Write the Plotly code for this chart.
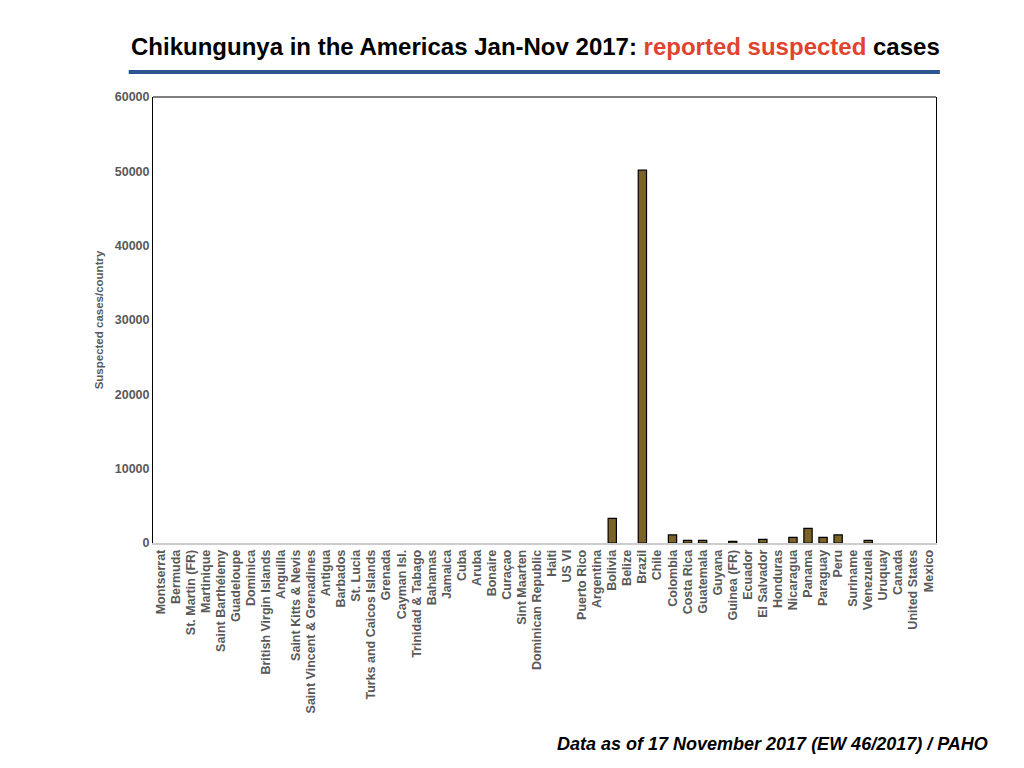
import plotly.graph_objects as go

# countries in chart order
countries = [
    "Montserrat", "Bermuda", "St. Martin (FR)", "Martinique", "Saint Barthélemy",
    "Guadeloupe", "Dominica", "British Virgin Islands", "Anguilla", "Saint Kitts & Nevis",
    "Saint Vincent & Grenadines", "Antigua", "Barbados", "St. Lucia",
    "Turks and Caicos Islands", "Grenada", "Cayman Isl.", "Trinidad & Tabago",
    "Bahamas", "Jamaica", "Cuba", "Aruba", "Bonaire", "Curaçao", "Sint Maarten",
    "Dominican Republic", "Haiti", "US VI", "Puerto Rico", "Argentina", "Bolivia",
    "Belize", "Brazil", "Chile", "Colombia", "Costa Rica", "Guatemala", "Guyana",
    "Guinea (FR)", "Ecuador", "El Salvador", "Honduras", "Nicaragua", "Panama",
    "Paraguay", "Peru", "Suriname", "Venezuela", "Uruquay", "Canada",
    "United States", "Mexico",
]
# suspected cases
cases = [
    0, 0, 0, 0, 0,
    0, 0, 0, 0, 0,
    0, 0, 0, 0,
    0, 0, 0, 0,
    0, 0, 0, 0, 0, 0, 0,
    0, 0, 0, 0, 0, 3320,
    0, 50150, 0, 1080, 360, 360, 0,
    230, 0, 500, 0, 760, 1970,
    760, 1080, 0, 360, 0, 0,
    0, 0,
]
yticks = [0, 10000, 20000, 30000, 40000, 50000, 60000]

font_main = "Liberation Sans, Arial, sans-serif"
gray = "#595959"

fig = go.Figure()
fig.add_trace(go.Bar(
    x=countries, y=cases,
    marker=dict(color="#7B6228",
                line=dict(color="#000000", width=[1.2 if v > 0 else 0 for v in cases])),
    width=0.55, showlegend=False,
))

# page body has an 8px margin, so the figure is a bit smaller than the window
fig.update_layout(
    width=1016, height=760,
    paper_bgcolor="white", plot_bgcolor="white",
    margin=dict(l=145, r=88, t=89, b=225),
    font=dict(family=font_main, color=gray),
    xaxis=dict(
        tickangle=-90, tickfont=dict(size=12.5, color=gray, family=font_main),
        tickvals=countries, ticktext=["<b>%s</b>" % c for c in countries],
        showline=True, linecolor="#CCCCCC", linewidth=1.5,
        showgrid=False, ticks="", range=[-0.5, len(countries) - 0.5],
    ),
    yaxis=dict(
        range=[0, 60000], tickvals=yticks, ticktext=["<b>%d</b>" % v for v in yticks],
        tickfont=dict(size=12.5, color=gray, family=font_main),
        showline=True, linecolor="#000000", linewidth=1, mirror=True,
        showgrid=False, zeroline=False, ticks="",
        title=dict(text="<b>Suspected cases/country</b>", font=dict(size=11.5, color=gray), standoff=8),
    ),
    shapes=[
        dict(type="line", xref="paper", yref="paper", x0=0, x1=1, y0=1, y1=1,
             line=dict(color="#000000", width=1)),
        dict(type="line", xref="paper", yref="paper", x0=-0.031, x1=1.005, y0=1.056, y1=1.056,
             line=dict(color="#2D5591", width=4)),
    ],
    annotations=[
        dict(text="<b>Chikungunya in the Americas Jan-Nov 2017: "
                  "<span style='color:#E0432F'>reported suspected</span> cases</b>",
             xref="paper", yref="paper", x=0.489, y=1.114, xanchor="center", yanchor="middle",
             showarrow=False, font=dict(size=24, color="#000000", family=font_main)),
        dict(text="<b><i>Data as of 17 November 2017 (EW 46/2017) / PAHO</i></b>",
             xref="paper", yref="paper", x=1.069, y=-0.451, xanchor="right", yanchor="middle",
             showarrow=False, font=dict(size=18, color="#000000", family=font_main)),
    ],
)

fig.write_html("out.html")
